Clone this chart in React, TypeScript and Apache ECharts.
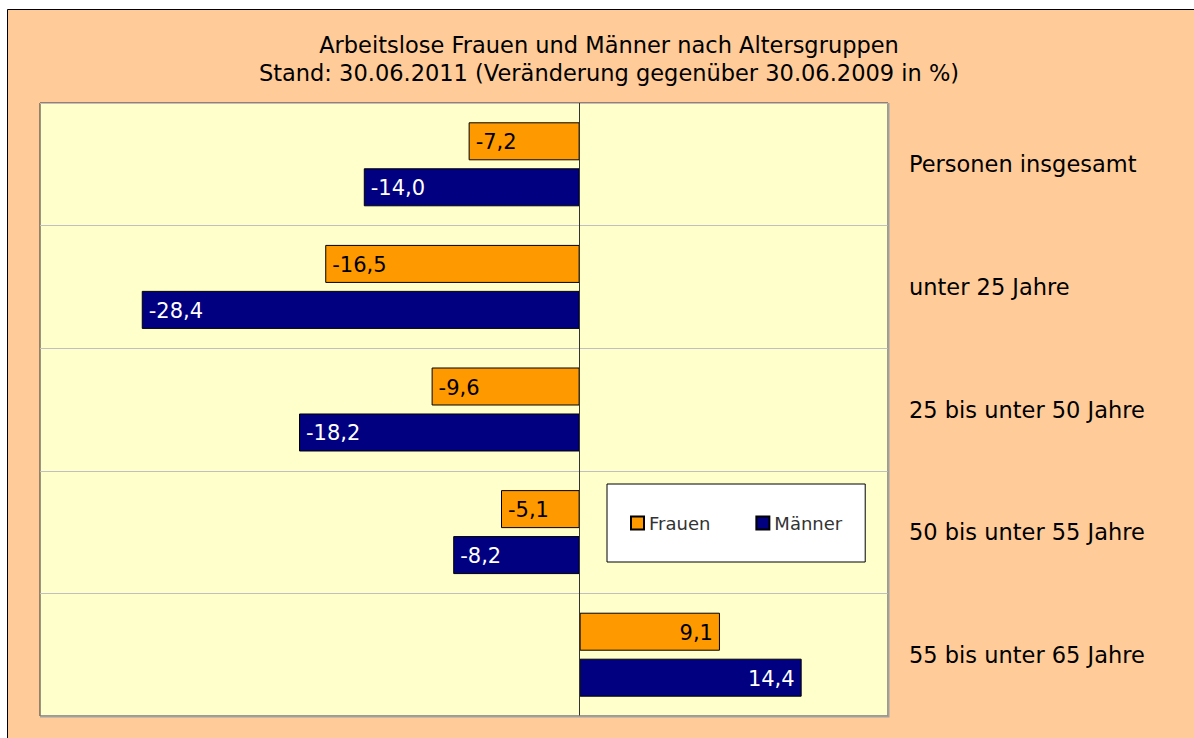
import React, { useEffect, useRef } from "react";
import * as echarts from "echarts";

const titleLines = [
  "Arbeitslose Frauen und Männer nach Altersgruppen",
  "Stand: 30.06.2011 (Veränderung gegenüber 30.06.2009 in %)",
];
const categories = [
  "Personen insgesamt",
  "unter 25 Jahre",
  "25 bis unter 50 Jahre",
  "50 bis unter 55 Jahre",
  "55 bis unter 65 Jahre",
];
const frauen = [-7.2, -16.5, -9.6, -5.1, 9.1];
const maenner = [-14.0, -28.4, -18.2, -8.2, 14.4];
const seriesNames = ["Frauen", "Männer"];

const FONT = "DejaVu Sans";

const fmt = (v: number) => v.toFixed(1).replace(".", ",");

function mkData(values: number[], color: string) {
  return values.map((v) => ({
    value: v,
    label: {
      show: true,
      position: v < 0 ? "insideLeft" : "insideRight",
      distance: 7,
      offset: [0, 1],
      color,
      fontSize: 21,
      fontFamily: FONT,
      formatter: () => fmt(v),
    },
  }));
}

export default function App() {
  const ref = useRef<HTMLDivElement>(null);
  useEffect(() => {
    const chart = echarts.init(ref.current!, null, { renderer: "svg" });
    chart.setOption({
      animation: false,
      backgroundColor: "#ffffff",
      graphic: [
        {
          type: "rect",
          z: -10,
          silent: true,
          shape: { x: 7.5, y: 9.5, width: 1200, height: 740 },
          style: { fill: "#FFCC99", stroke: "#000000", lineWidth: 1 },
        },
        {
          type: "polyline",
          z: 10,
          silent: true,
          shape: { points: [[888.5, 103], [888.5, 716.5], [40, 716.5]] },
          style: { stroke: "#A0A0A0", lineWidth: 2, fill: null },
        },
      ],
      title: {
        text: titleLines.join("\n"),
        left: 604,
        textAlign: "center",
        top: 26,
        textStyle: {
          fontSize: 22.5,
          fontWeight: "normal",
          color: "#000000",
          fontFamily: FONT,
          lineHeight: 28,
        },
      },
      legend: {
        left: 607,
        top: 484,
        data: seriesNames,
        backgroundColor: "#ffffff",
        borderColor: "#000000",
        borderWidth: 1,
        padding: [30, 23, 30, 23],
        itemGap: 45,
        itemWidth: 13,
        itemHeight: 13,
        icon: "rect",
        textStyle: { fontSize: 18, color: "#333333", fontFamily: FONT },
      },
      grid: {
        left: 40,
        top: 103,
        width: 848,
        height: 613,
        show: true,
        backgroundColor: "#FFFFCC",
        borderColor: "#333333",
        borderWidth: 1,
      },
      xAxis: {
        type: "value",
        min: -35,
        max: 20,
        axisLine: { show: false },
        axisTick: { show: false },
        axisLabel: { show: false },
        splitLine: { show: false },
      },
      yAxis: {
        type: "category",
        data: categories,
        inverse: true,
        position: "right",
        axisLine: { show: false },
        axisTick: { show: false },
        axisLabel: {
          margin: 21,
          fontSize: 22.5,
          color: "#000000",
          fontFamily: FONT,
          align: "left",
        },
        splitLine: { show: true, interval: 0, lineStyle: { color: "#C0C0C0", width: 1 } },
      },
      series: [
        {
          name: seriesNames[0],
          type: "bar",
          data: mkData(frauen, "#000000"),
          barWidth: 38,
          barGap: "21%",
          itemStyle: { color: "#FF9900", borderColor: "#000000", borderWidth: 1 },
          markLine: {
            silent: true,
            symbol: "none",
            label: { show: false },
            lineStyle: { color: "#333333", width: 1, type: "solid" },
            data: [{ xAxis: 0 }],
          },
        },
        {
          name: seriesNames[1],
          type: "bar",
          data: mkData(maenner, "#ffffff"),
          barWidth: 38,
          itemStyle: { color: "#000080", borderColor: "#000000", borderWidth: 1 },
        },
      ],
    });
    return () => chart.dispose();
  }, []);
  return (
    <div
      ref={ref}
      style={{ position: "fixed", left: 0, top: 0, width: 1194, height: 738 }}
    />
  );
}
